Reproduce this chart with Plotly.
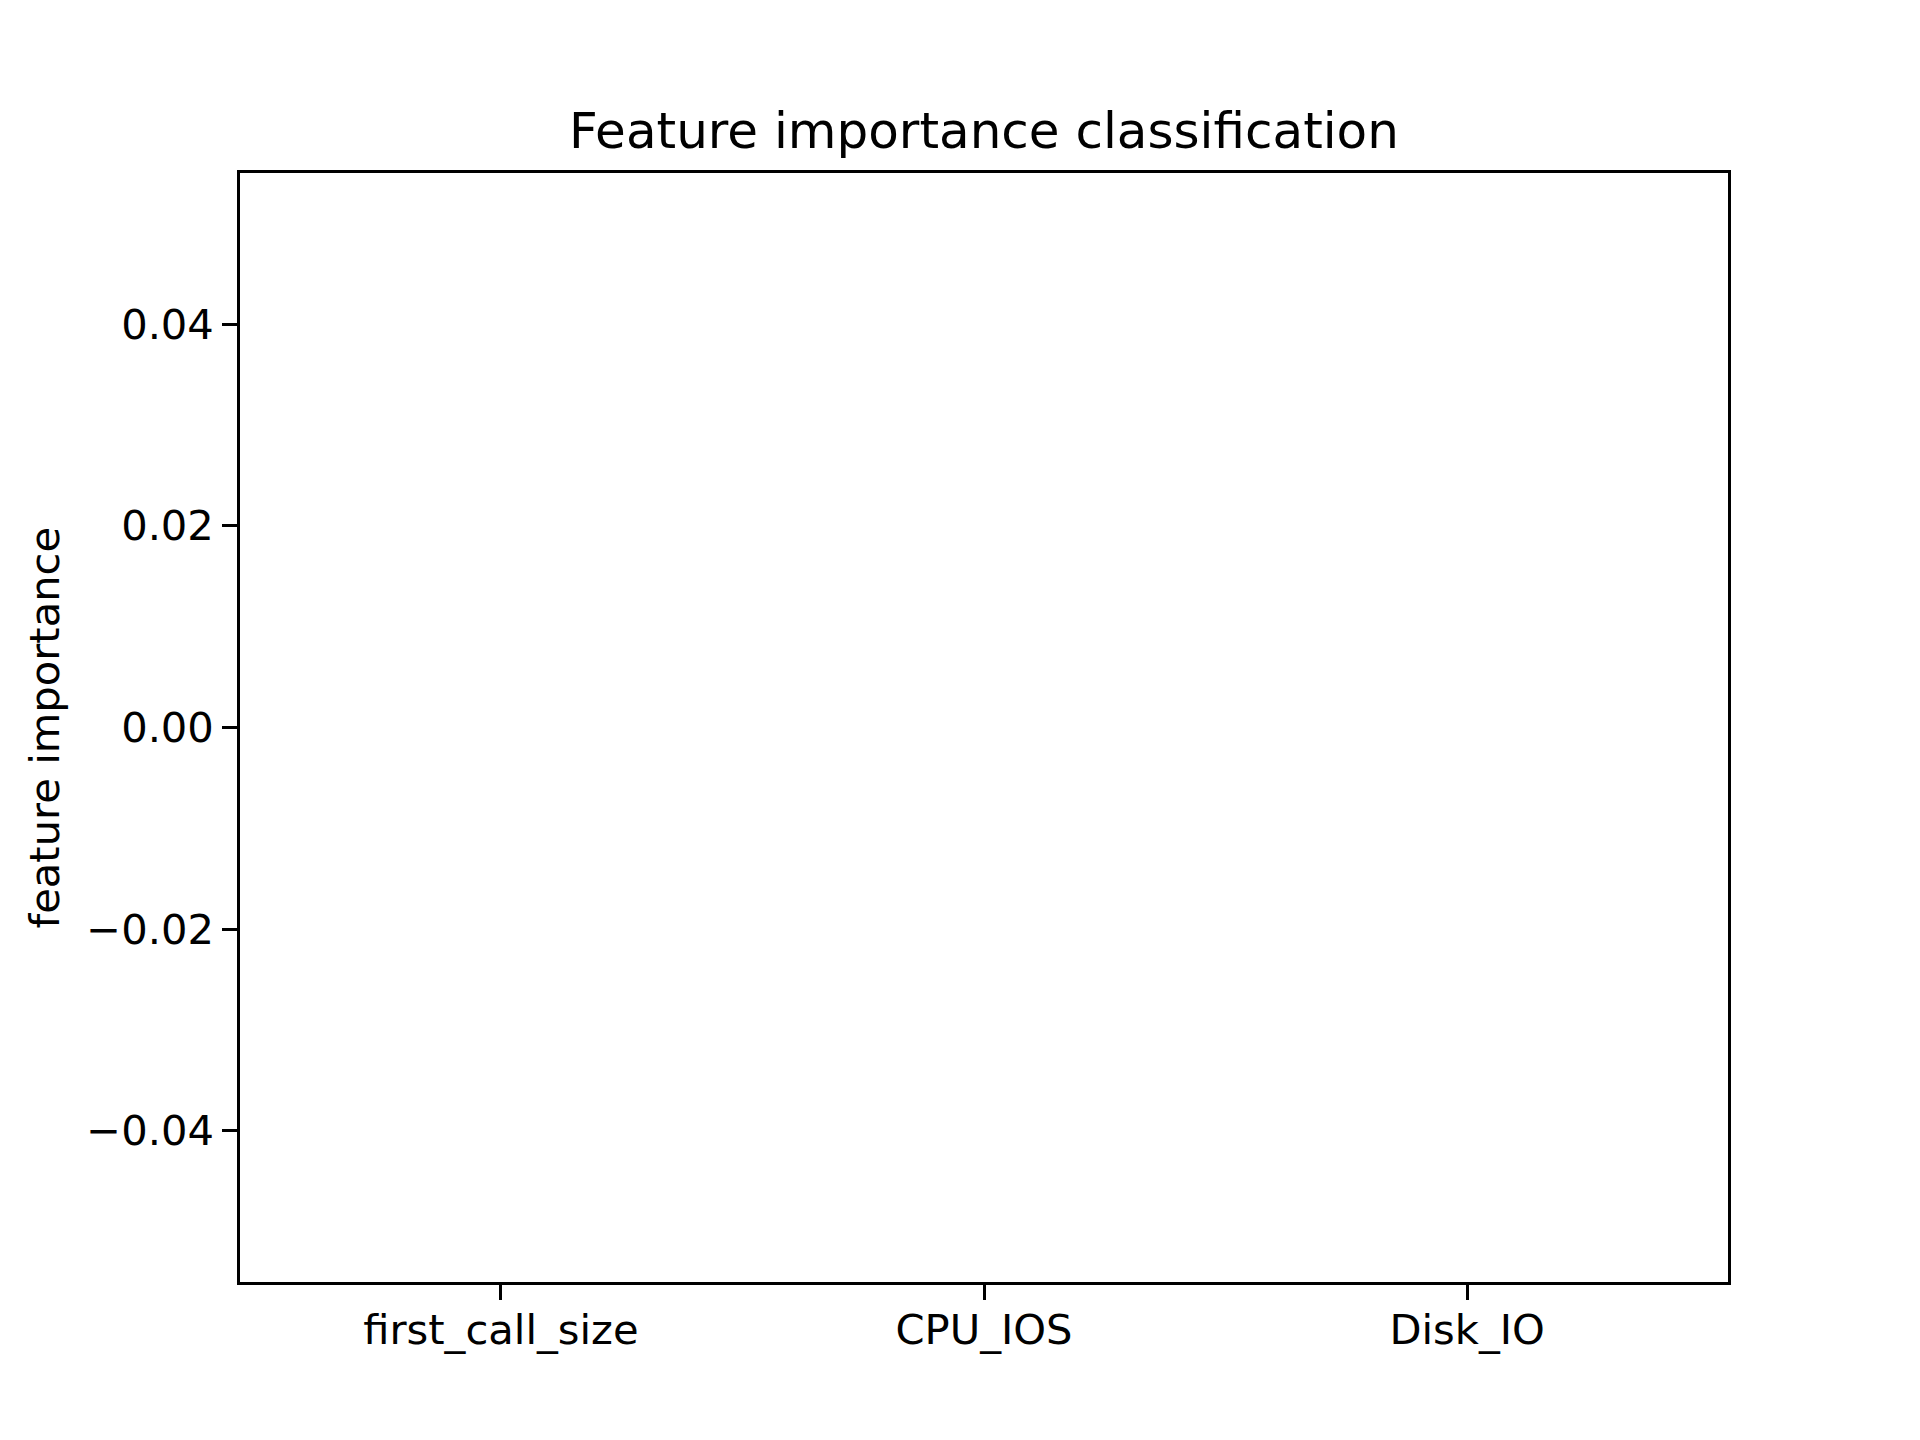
import plotly.graph_objects as go

features = ["first_call_size", "CPU_IOS", "Disk_IO"]
importance = [0.0, 0.0, 0.0]
y_ticks = [-0.04, -0.02, 0.0, 0.02, 0.04]
y_tick_text = ["\u22120.04", "\u22120.02", "0.00", "0.02", "0.04"]

W, H = 1920, 1440
L, R, T, B = 240, 192, 172.8, 158.4
FONT = "DejaVu Sans"
lw = 3.33

fig = go.Figure()
fig.add_trace(go.Bar(
    x=list(range(len(features))), y=importance, width=0.8,
    marker=dict(color="#1f77b4", line=dict(width=0)), showlegend=False,
))

fig.update_layout(
    width=W, height=H,
    margin=dict(l=L, r=R, t=T, b=B, pad=0),
    paper_bgcolor="white", plot_bgcolor="white",
    font=dict(family=FONT, size=41.67, color="black"),
    title=dict(text="Feature importance classification", x=0.5,
               xanchor="center", xref="paper", yref="paper", y=1, yanchor="bottom",
               pad=dict(b=25), font=dict(size=50, family=FONT, color="black")),
    xaxis=dict(range=[-0.54, 2.54], tickmode="array", tickvals=list(range(len(features))),
               ticktext=features, showgrid=False, zeroline=False,
               showline=True, mirror=True, linecolor="black", linewidth=lw,
               ticks="outside", ticklen=14.6, tickwidth=lw, tickcolor="black",
               ticklabelstandoff=-6,
               tickfont=dict(size=41.67, family=FONT, color="black")),
    yaxis=dict(range=[-0.055, 0.055], tickmode="array", tickvals=y_ticks,
               ticktext=y_tick_text, showgrid=False, zeroline=False,
               showline=True, mirror=True, linecolor="black", linewidth=lw,
               ticks="outside", ticklen=14.6, tickwidth=lw, tickcolor="black",
               tickfont=dict(size=41.67, family=FONT, color="black")),
    annotations=[dict(text="feature importance", textangle=-90,
                      xref="paper", yref="paper",
                      x=(44 - L) / (W - L - R), y=0.5,
                      xanchor="center", yanchor="middle", showarrow=False,
                      font=dict(size=41.67, family=FONT, color="black"))],
)

fig.write_html("out.html")
